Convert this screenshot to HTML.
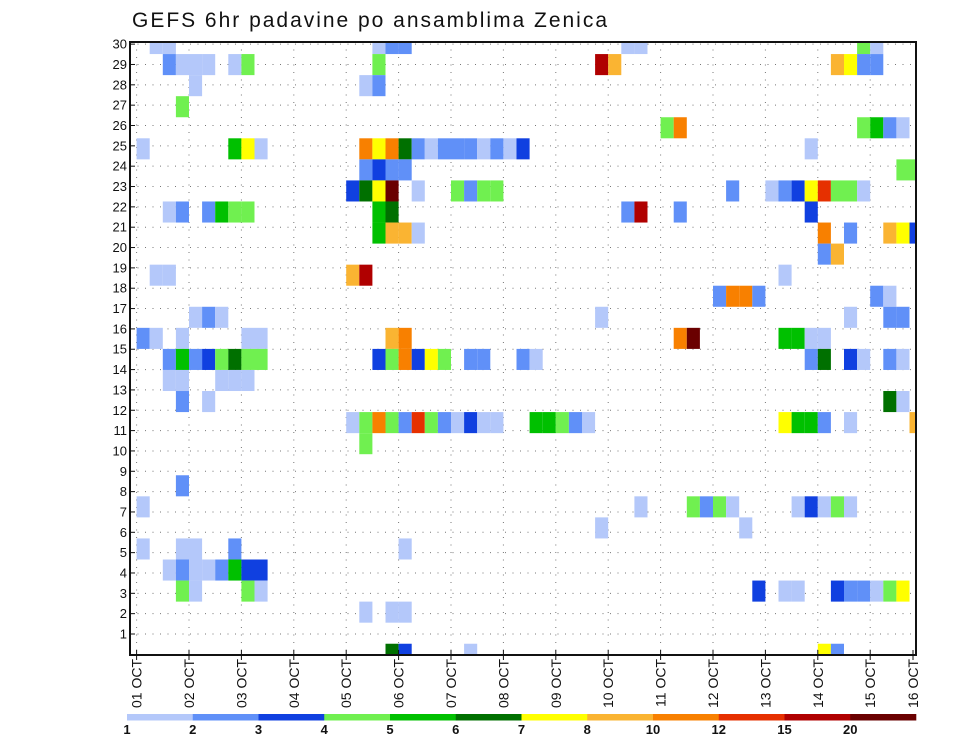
<!DOCTYPE html>
<html><head><meta charset="utf-8">
<style>
html,body{margin:0;padding:0;background:#fff;}
svg{display:block;font-family:"Liberation Sans",sans-serif;}
</style></head>
<body>
<svg id="chart" width="960" height="742" viewBox="0 0 960 742" xmlns="http://www.w3.org/2000/svg">
<text x="132" y="27" font-size="21" fill="#111" textLength="475" lengthAdjust="spacing">GEFS 6hr padavine po ansamblima Zenica</text>
<g id="grid"></g>
<g id="cells"></g>
<rect x="130" y="42" width="786" height="613" fill="none" stroke="#111" stroke-width="2"/>
<g id="yaxis"></g>
<g id="xaxis"></g>
<g id="legend"></g>
</svg>
<script>
// --- data ---
const dayLabels = ["01 OCT","02 OCT","03 OCT","04 OCT","05 OCT","06 OCT","07 OCT","08 OCT","09 OCT","10 OCT","11 OCT","12 OCT","13 OCT","14 OCT","15 OCT","16 OCT"];
const memberTicks = [1,2,3,4,5,6,7,8,9,10,11,12,13,14,15,16,17,18,19,20,21,22,23,24,25,26,27,28,29,30];
const legendLabels = ["1","2","3","4","5","6","7","8","10","12","15","20"];
const classColors = ["#b4c8fa","#6090f8","#1040e0","#70f050","#00c000","#007000","#ffff00","#fab432","#f88000","#e63000","#b00000","#6a0000"];
// rows of the heatmap (0 = top), each entry "column:class"
const rowCells = [
"1:0,2:0,18:0,19:1,20:1,37:0,38:0,55:3,56:0",
"2:1,3:0,4:0,5:0,7:0,8:3,18:3,35:10,36:7,53:7,54:6,55:1,56:1",
"4:0,17:0,18:1",
"3:3",
"40:3,41:8,55:3,56:4,57:1,58:0",
"0:0,7:4,8:6,9:0,17:8,18:6,19:8,20:5,21:1,22:0,23:1,24:1,25:1,26:0,27:1,28:0,29:2,51:0",
"17:1,18:2,19:1,20:1,58:3,59:3",
"16:2,17:5,18:6,19:11,21:0,24:3,25:1,26:3,27:3,45:1,48:0,49:1,50:2,51:6,52:9,53:3,54:3,55:0",
"2:0,3:1,5:1,6:4,7:3,8:3,18:4,19:5,37:1,38:10,41:1,51:2",
"18:4,19:7,20:7,21:0,52:8,54:1,57:7,58:6,59:2",
"52:1,53:7",
"1:0,2:0,16:7,17:10,49:0",
"44:1,45:8,46:8,47:1,56:1,57:0",
"4:0,5:1,6:0,35:0,54:0,57:1,58:1",
"0:1,1:0,3:0,8:0,9:0,19:7,20:8,41:8,42:11,49:4,50:4,51:0,52:0",
"2:1,3:4,4:1,5:2,6:3,7:5,8:3,9:3,18:2,19:3,20:8,21:2,22:6,23:3,25:1,26:1,29:1,30:0,51:1,52:5,54:2,55:0,57:1,58:0",
"2:0,3:0,6:0,7:0,8:0",
"3:1,5:0,57:5,58:0",
"16:0,17:3,18:8,19:3,20:1,21:9,22:3,23:1,24:0,25:2,26:0,27:0,30:4,31:4,32:3,33:1,34:0,49:6,50:4,51:4,52:1,54:0,59:7",
"17:3",
"",
"3:1",
"0:0,38:0,42:3,43:1,44:3,45:0,50:0,51:2,52:0,53:3,54:0",
"35:0,46:0",
"0:0,3:0,4:0,7:1,20:0",
"2:0,3:1,4:0,5:0,6:1,7:4,8:2,9:2",
"3:3,4:0,8:3,9:0,47:2,49:0,50:0,53:2,54:1,55:1,56:0,57:3,58:6",
"17:0,19:0,20:0",
"",
"19:5,20:2,25:0,52:6,53:1"
];
// --- scales ---
const NS="http://www.w3.org/2000/svg";
const X0=136.6, DAY=52.4, COLW=DAY/4;
const FL=130, FR=916, FT=42, FB=655;
function xDay(d){return X0+d*DAY;}
function xCol(c){return X0+c*COLW;}
function yTick(m){return 634-(m-1)*20.34;}
function yRowTop(k){return 33+k*21.06;}
const ROWH=21.06;
function mk(tag,attrs,parent){const e=document.createElementNS(NS,tag);for(const k in attrs)e.setAttribute(k,attrs[k]);parent.appendChild(e);return e;}

const grid=document.getElementById('grid');
memberTicks.forEach(m=>{
  const l=mk('line',{x1:FL,x2:FR,y1:yTick(m),y2:yTick(m),stroke:'#777','stroke-width':1,'stroke-dasharray':'1 6.5'},grid);
  
  
});
dayLabels.forEach((d,i)=>{
  const x=xDay(i); if(x>FR) return;
  const l=mk('line',{x1:x,x2:x,y1:FT,y2:FB,stroke:'#777','stroke-width':1,'stroke-dasharray':'1 6.5'},grid);
  
  
});

const cellsG=document.getElementById('cells');
rowCells.forEach((row,k)=>{
  if(!row) return;
  row.split(',').forEach(p=>{
    const [c,cls]=p.split(':').map(Number);
    let x=xCol(c), w=COLW, y=yRowTop(k), h=ROWH;
    if(x+w>FR) w=FR-x;
    if(y<FT){h-=FT-y;y=FT;}
    if(y+h>FB) h=FB-y;
    const r=mk('rect',{x:x.toFixed(2),y:y.toFixed(2),width:w.toFixed(2),height:h.toFixed(2),fill:classColors[cls]},cellsG);
    
    
  });
});

const ya=document.getElementById('yaxis');
memberTicks.forEach(m=>{
  const y=yTick(m);
  const t=mk('line',{x1:FL-1,x2:FL+5,y1:y,y2:y,stroke:'#111','stroke-width':1},ya);
  
  
  const tx=mk('text',{x:127,y:y+4.5,'font-size':13,'text-anchor':'end',fill:'#111'},ya);
  tx.textContent=m;
  
  
});

const xa=document.getElementById('xaxis');
dayLabels.forEach((d,i)=>{
  let x=xDay(i); if(x>FR) x=FR-3;
  const t=mk('line',{x1:x,x2:x,y1:FB-5,y2:FB+5,stroke:'#111','stroke-width':1},xa);
  
  
  const tx=mk('text',{x:0,y:0,'font-size':14,'text-anchor':'end',fill:'#111',transform:`translate(${(x+5).toFixed(1)},659) rotate(-90)`},xa);
  tx.textContent=d;
  
  
});

const lg=document.getElementById('legend');
const LX0=127, LX1=916, SW=(LX1-LX0)/classColors.length;
classColors.forEach((c,i)=>{
  const r=mk('rect',{x:(LX0+i*SW).toFixed(2),y:714,width:(SW+0.3).toFixed(2),height:6.5,fill:c},lg);
  
  
  const t=mk('text',{x:(LX0+i*SW).toFixed(2),y:734,'font-size':13,'font-weight':'bold','text-anchor':'middle',fill:'#111'},lg);
  t.textContent=legendLabels[i];
  
  
});
</script>
</body></html>
